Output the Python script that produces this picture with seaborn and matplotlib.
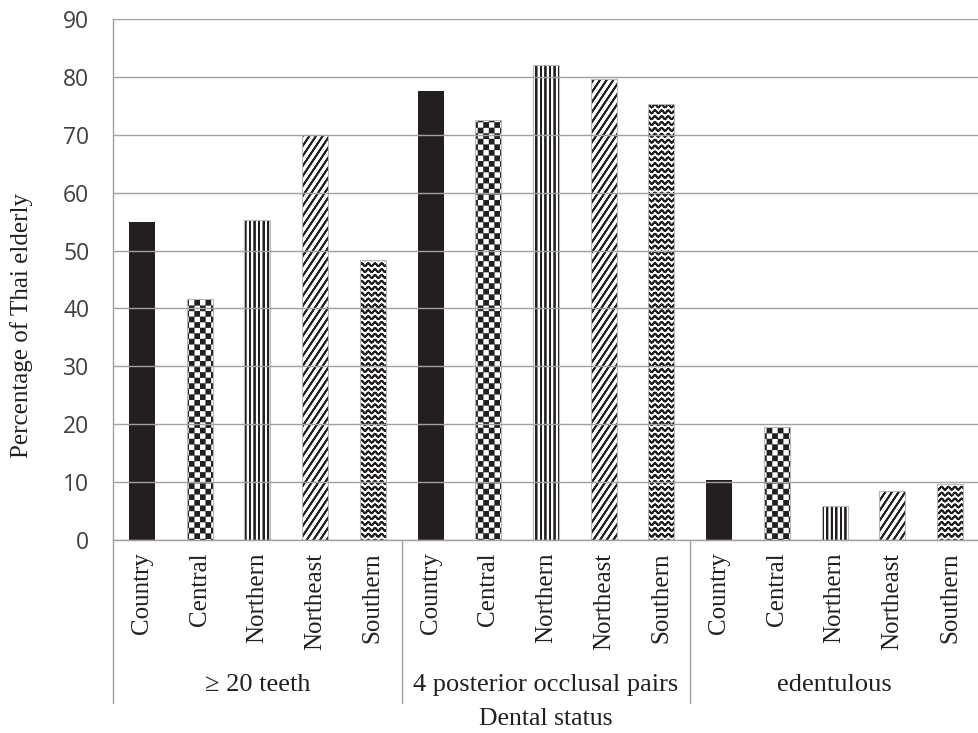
import warnings

import numpy as np
import pandas as pd
import matplotlib
matplotlib.use("Agg")
from matplotlib import pyplot as plt
from matplotlib import hatch as mhatch
from matplotlib import transforms as mtransforms
from matplotlib.path import Path
import seaborn as sns

# custom hatch letters are "invalid" for matplotlib, it only warns
warnings.filterwarnings("ignore")

# ------------------------------------------------------------
#     data
# ------------------------------------------------------------

statuses = ["\u2265 20 teeth", "4 posterior occlusal pairs", "edentulous"]
regions = ["Country", "Central", "Northern", "Northeast", "Southern"]
teeth20 = [54.9, 41.6, 55.3, 69.9, 48.4]
occlusal4 = [77.6, 72.5, 82.0, 79.7, 75.4]
edentulous = [10.4, 19.5, 5.8, 8.5, 9.6]

df = pd.DataFrame({
    "status": np.repeat(statuses, len(regions)),
    "region": regions * len(statuses),
    "value": teeth20 + occlusal4 + edentulous,
})
df["bar"] = df["status"] + " | " + df["region"]

# ------------------------------------------------------------
#     hatch patterns (checker, waves, stripes, steep diagonals)
# ------------------------------------------------------------

def _line(pts):
    # forward and back along the same points, so the hatch fill adds nothing
    pts = np.asarray(pts, float)
    v = np.concatenate([pts, pts[-2::-1]])
    c = np.full(len(v), Path.LINETO, dtype=Path.code_type)
    c[0] = Path.MOVETO
    return v, c

def _square(x, y, s):
    v = np.array([[x, y], [x + s, y], [x + s, y + s], [x, y + s], [x, y]])
    c = np.array([Path.MOVETO, Path.LINETO, Path.LINETO, Path.LINETO, Path.CLOSEPOLY],
                 dtype=Path.code_type)
    return v, c

class CustomHatch(mhatch.HatchPatternBase):
    key = "?"
    def __init__(self, hatch, density):
        parts = self.build() if (hatch and self.key in hatch) else []
        if parts:
            self.verts = np.concatenate([p[0] for p in parts])
            self.codes = np.concatenate([p[1] for p in parts])
        else:
            self.verts = np.empty((0, 2))
            self.codes = np.empty(0, dtype=Path.code_type)
        self.num_vertices = len(self.verts)

    def set_vertices_and_codes(self, vertices, codes):
        vertices[:] = self.verts
        codes[:] = self.codes

class Checker(CustomHatch):
    key = "c"
    def build(self):
        n, e = 18, 0.008
        s = 1.0 / n
        return [_square(i * s + e, j * s + e, s - 2 * e)
                for i in range(n) for j in range(n) if (i + j) % 2 == 0]

class Wave(CustomHatch):
    key = "w"
    def build(self):
        rows, waves, amp = 17, 15, 0.015
        x = np.linspace(-1.0 / waves, 1 + 1.0 / waves, (waves + 2) * 8 + 1)
        return [_line(np.column_stack([x, j / rows + amp * np.sin(2 * np.pi * waves * x)]))
                for j in range(rows + 1)]

class VStripes(CustomHatch):
    key = "v"
    def build(self):
        n = 22
        return [_line([[i / n, -0.1], [i / n, 1.1]]) for i in range(n + 1)]

class Diag(CustomHatch):
    key = "d"
    def build(self):
        n, slope = 15, 1.5
        return [_line([[i / n - 0.1 / slope, -0.1], [i / n + 1.1 / slope, 1.1]])
                for i in range(-12, 17)]

mhatch._hatch_types.extend([Checker, Wave, VStripes, Diag])

# ------------------------------------------------------------
#     plot
# ------------------------------------------------------------

sns.set_style("white")
plt.rcParams["font.family"] = ["Liberation Serif", "DejaVu Serif"]
plt.rcParams["hatch.linewidth"] = 1.3

grid = "#a0a0a0"
ink = "#231f20"
hatches = {"Country": "", "Central": "c", "Northern": "v", "Northeast": "d", "Southern": "w"}

fig = plt.figure(figsize=(9.79, 7.33), dpi=100)
ax = fig.add_axes([113 / 979, 1 - 540 / 733, 866 / 979, 521 / 733])

sns.barplot(data=df, x="bar", y="value", order=list(df["bar"]), color="white",
            saturation=1, width=0.45, errorbar=None, ax=ax)

for patch, region in zip(ax.patches, df["region"]):
    if region == "Country":
        patch.set_facecolor(ink)
        patch.set_edgecolor(ink)
        patch.set_linewidth(0)
    else:
        patch.set_facecolor("white")
        patch.set_hatch(hatches[region])
        patch.set_edgecolor("#b8b8b8")
        patch.set_linewidth(0.8)
        patch._hatch_color = (0.137, 0.122, 0.125, 1.0)

ax.set_xlim(-0.5, len(df) - 0.5)
ax.set_ylim(0, 90)
ax.set_yticks(range(0, 91, 10))
ax.grid(axis="y", color=grid, lw=1)
ax.set_axisbelow(False)
for s in ["top", "right"]:
    ax.spines[s].set_visible(False)
for s in ["left", "bottom"]:
    ax.spines[s].set_color(grid)
    ax.spines[s].set_linewidth(1)

ax.tick_params(axis="y", length=8, width=1, color=grid, pad=9,
               labelsize=16.5, labelcolor="#404040")
for lab in ax.get_yticklabels():
    lab.set_fontfamily("Open Sans")
ax.set_xticks(range(len(df)))
ax.set_xticklabels(df["region"], rotation=90, fontsize=18, color=ink)
ax.tick_params(axis="x", length=0, pad=9)

# group separators and group names under the region labels
trans = mtransforms.blended_transform_factory(ax.transData, ax.transAxes)
n = len(regions)
for k in range(len(statuses) + 1):
    ax.plot([k * n - 0.5] * 2, [0, -0.312], color=grid, lw=1,
            transform=trans, clip_on=False)
for k, status in enumerate(statuses):
    ax.text(k * n + (n - 1) / 2, -0.279, status, transform=trans,
            ha="center", va="center", fontsize=19, color=ink)

ax.set_xlabel("Dental status", fontsize=18.5, color=ink)
ax.xaxis.set_label_coords(0.5, -0.322)
ax.set_ylabel("Percentage of Thai elderly", fontsize=18, color=ink)
ax.yaxis.set_label_coords(-0.092, 0.411)

plt.savefig("out.png", dpi=100)
